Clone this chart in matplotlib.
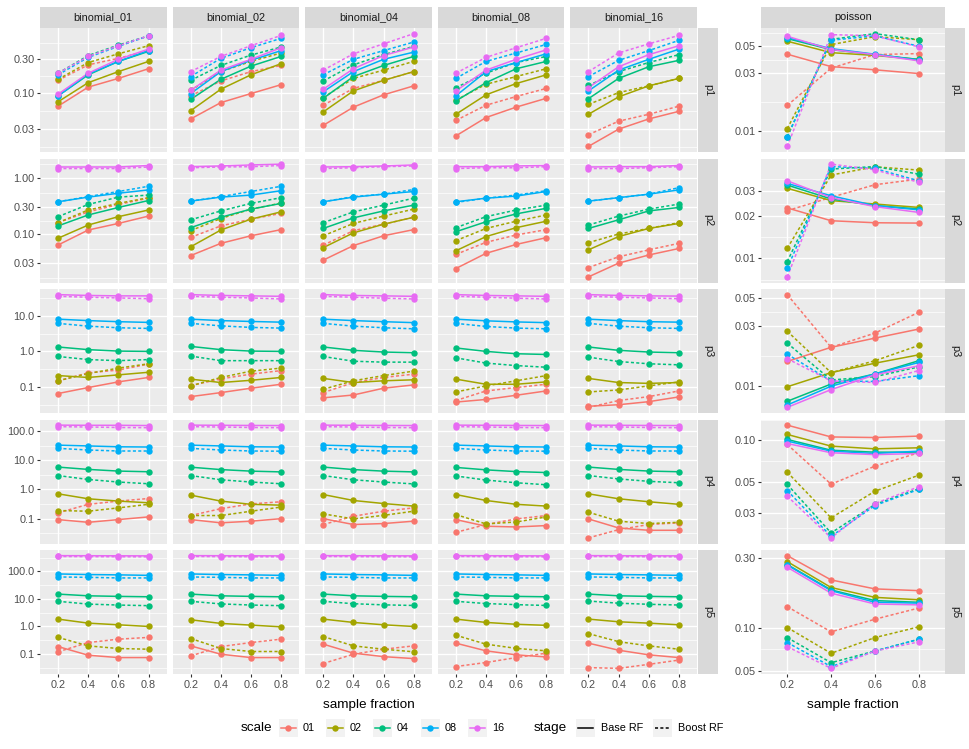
import matplotlib.pyplot as plt
import numpy as np
from matplotlib.patches import Rectangle
from matplotlib.lines import Line2D
from matplotlib.ticker import NullLocator

plt.rcParams['font.family'] = ['Liberation Sans', 'DejaVu Sans']

# sample fractions (discrete x axis) and groups
fractions = [0.2, 0.4, 0.6, 0.8]
frac_labels = ["0.2", "0.4", "0.6", "0.8"]
scales = ["01", "02", "04", "08", "16"]
colors = {"01": "#F8766D", "02": "#A3A500", "04": "#00BF7D", "08": "#00B0F6", "16": "#E76BF3"}
rows = ["p1", "p2", "p3", "p4", "p5"]
facets = ["binomial_01", "binomial_02", "binomial_04", "binomial_08", "binomial_16"]

# each entry: scale -> (Base RF, Boost RF)
# ---- row p1 ----
b01_p1 = {"01": ([0.064, 0.12, 0.16, 0.22], [0.15, 0.25, 0.31, 0.40]),
          "02": ([0.074, 0.139, 0.20, 0.28], [0.155, 0.27, 0.36, 0.47]),
          "04": ([0.09, 0.18, 0.28, 0.39], [0.19, 0.34, 0.48, 0.65]),
          "08": ([0.09, 0.185, 0.28, 0.40], [0.18, 0.32, 0.46, 0.65]),
          "16": ([0.095, 0.19, 0.30, 0.42], [0.19, 0.33, 0.47, 0.65])}
b02_p1 = {"01": ([0.042, 0.072, 0.097, 0.13], [0.09, 0.147, 0.20, 0.245]),
          "02": ([0.055, 0.112, 0.18, 0.26], [0.108, 0.20, 0.28, 0.37]),
          "04": ([0.08, 0.155, 0.24, 0.33], [0.15, 0.245, 0.345, 0.45]),
          "08": ([0.097, 0.20, 0.29, 0.40], [0.17, 0.31, 0.44, 0.60]),
          "16": ([0.108, 0.21, 0.30, 0.44], [0.20, 0.33, 0.47, 0.66])}
b04_p1 = {"01": ([0.034, 0.062, 0.093, 0.125], [0.066, 0.115, 0.15, 0.20]),
          "02": ([0.053, 0.106, 0.15, 0.20], [0.085, 0.16, 0.21, 0.28]),
          "04": ([0.083, 0.17, 0.245, 0.33], [0.147, 0.25, 0.35, 0.46]),
          "08": ([0.103, 0.20, 0.30, 0.38], [0.18, 0.30, 0.40, 0.53]),
          "16": ([0.112, 0.22, 0.34, 0.45], [0.21, 0.36, 0.50, 0.70])}
b08_p1 = {"01": ([0.024, 0.044, 0.062, 0.083], [0.040, 0.066, 0.088, 0.115]),
          "02": ([0.049, 0.093, 0.135, 0.18], [0.078, 0.132, 0.17, 0.22]),
          "04": ([0.076, 0.139, 0.22, 0.28], [0.118, 0.19, 0.27, 0.33]),
          "08": ([0.09, 0.20, 0.27, 0.36], [0.16, 0.28, 0.37, 0.49]),
          "16": ([0.106, 0.21, 0.30, 0.41], [0.19, 0.32, 0.44, 0.60])}
b16_p1 = {"01": ([0.017, 0.030, 0.042, 0.054], [0.025, 0.039, 0.049, 0.064]),
          "02": ([0.049, 0.087, 0.125, 0.16], [0.068, 0.10, 0.125, 0.16]),
          "04": ([0.082, 0.16, 0.235, 0.29], [0.127, 0.20, 0.27, 0.35]),
          "08": ([0.106, 0.21, 0.30, 0.42], [0.17, 0.29, 0.40, 0.56]),
          "16": ([0.118, 0.235, 0.35, 0.47], [0.20, 0.37, 0.50, 0.66])}
# ---- row p2 ----
b01_p2 = {"01": ([0.0635, 0.118, 0.155, 0.21], [0.16, 0.25, 0.34, 0.44]),
          "02": ([0.084, 0.145, 0.205, 0.27], [0.16, 0.27, 0.355, 0.45]),
          "04": ([0.14, 0.22, 0.30, 0.40], [0.205, 0.34, 0.46, 0.50]),
          "08": ([0.38, 0.46, 0.54, 0.62], [0.38, 0.47, 0.58, 0.72]),
          "16": ([1.6, 1.6, 1.6, 1.7], [1.5, 1.5, 1.5, 1.6])}
b02_p2 = {"01": ([0.041, 0.068, 0.093, 0.12], [0.087, 0.14, 0.185, 0.235]),
          "02": ([0.059, 0.118, 0.185, 0.25], [0.115, 0.19, 0.28, 0.36]),
          "04": ([0.13, 0.20, 0.28, 0.355], [0.18, 0.26, 0.355, 0.45]),
          "08": ([0.39, 0.46, 0.50, 0.60], [0.39, 0.47, 0.58, 0.72]),
          "16": ([1.62, 1.67, 1.74, 1.8], [1.55, 1.6, 1.62, 1.7])}
b04_p2 = {"01": ([0.034, 0.062, 0.093, 0.12], [0.063, 0.115, 0.15, 0.20]),
          "02": ([0.057, 0.105, 0.15, 0.20], [0.093, 0.155, 0.21, 0.28]),
          "04": ([0.126, 0.195, 0.26, 0.33], [0.16, 0.25, 0.33, 0.44]),
          "08": ([0.38, 0.46, 0.52, 0.58], [0.38, 0.47, 0.52, 0.63]),
          "16": ([1.6, 1.62, 1.67, 1.74], [1.5, 1.55, 1.62, 1.67])}
b08_p2 = {"01": ([0.024, 0.045, 0.065, 0.086], [0.043, 0.071, 0.096, 0.12]),
          "02": ([0.05, 0.09, 0.13, 0.17], [0.076, 0.126, 0.17, 0.22]),
          "04": ([0.11, 0.166, 0.23, 0.29], [0.13, 0.205, 0.27, 0.33]),
          "08": ([0.38, 0.44, 0.48, 0.58], [0.37, 0.44, 0.50, 0.60]),
          "16": ([1.62, 1.62, 1.67, 1.7], [1.5, 1.55, 1.55, 1.62])}
b16_p2 = {"01": ([0.017, 0.030, 0.042, 0.055], [0.025, 0.039, 0.052, 0.068]),
          "02": ([0.052, 0.09, 0.126, 0.155], [0.07, 0.10, 0.126, 0.16]),
          "04": ([0.126, 0.18, 0.26, 0.30], [0.145, 0.21, 0.28, 0.345]),
          "08": ([0.39, 0.45, 0.52, 0.62], [0.39, 0.45, 0.52, 0.68]),
          "16": ([1.6, 1.62, 1.62, 1.7], [1.5, 1.5, 1.55, 1.62])}
# ---- row p3 ----
b01_p3 = {"01": ([0.066, 0.097, 0.14, 0.186], [0.15, 0.25, 0.30, 0.44]),
          "02": ([0.21, 0.186, 0.22, 0.26], [0.15, 0.24, 0.34, 0.45]),
          "04": ([1.33, 1.12, 1.02, 1.0], [0.72, 0.59, 0.55, 0.59]),
          "08": ([8.0, 7.3, 6.8, 6.5], [6.1, 5.1, 4.6, 4.4]),
          "16": ([39, 37, 36, 36], [35, 33, 31.5, 30])}
b02_p3 = {"01": ([0.054, 0.07, 0.093, 0.12], [0.11, 0.17, 0.23, 0.29]),
          "02": ([0.167, 0.134, 0.155, 0.186], [0.108, 0.186, 0.28, 0.34]),
          "04": ([1.38, 1.12, 1.02, 1.0], [0.74, 0.55, 0.55, 0.55]),
          "08": ([8.0, 7.3, 6.9, 6.6], [6.1, 5.2, 4.7, 4.5]),
          "16": ([39, 37, 36, 35], [35, 33, 31.5, 29.5])}
b04_p3 = {"01": ([0.05, 0.06, 0.093, 0.115], [0.07, 0.134, 0.186, 0.23]),
          "02": ([0.175, 0.134, 0.15, 0.16], [0.087, 0.15, 0.21, 0.28]),
          "04": ([1.33, 1.07, 0.96, 0.92], [0.72, 0.53, 0.50, 0.50]),
          "08": ([8.0, 7.3, 6.8, 6.4], [6.1, 5.1, 4.6, 4.3]),
          "16": ([39, 37, 36, 35], [35, 33, 31, 29.5])}
b08_p3 = {"01": ([0.038, 0.045, 0.059, 0.078], [0.042, 0.078, 0.097, 0.12]),
          "02": ([0.167, 0.12, 0.12, 0.14], [0.073, 0.108, 0.15, 0.21]),
          "04": ([1.25, 1.0, 0.86, 0.82], [0.66, 0.47, 0.40, 0.36]),
          "08": ([8.0, 7.2, 6.7, 6.4], [6.1, 5.0, 4.5, 4.3]),
          "16": ([39, 37, 36, 35], [35, 33, 31, 29.5])}
b16_p3 = {"01": ([0.029, 0.032, 0.039, 0.053], [0.027, 0.042, 0.054, 0.078]),
          "02": ([0.175, 0.134, 0.127, 0.134], [0.073, 0.083, 0.108, 0.14]),
          "04": ([1.33, 1.07, 0.96, 0.92], [0.69, 0.52, 0.45, 0.42]),
          "08": ([8.0, 7.3, 6.8, 6.6], [6.1, 5.1, 4.6, 4.4]),
          "16": ([39, 37, 36, 35.5], [35, 33, 31.5, 30])}
# ---- row p4 ----
b01_p4 = {"01": ([0.093, 0.075, 0.093, 0.115], [0.158, 0.31, 0.40, 0.49]),
          "02": ([0.71, 0.48, 0.40, 0.35], [0.19, 0.18, 0.234, 0.31]),
          "04": ([5.85, 4.87, 4.27, 4.05], [3.0, 2.2, 1.8, 1.57]),
          "08": ([33, 31, 29, 28.5], [25.6, 22.5, 20.8, 20.8]),
          "16": ([160, 158, 158, 155], [142, 138, 133, 131])}
b02_p4 = {"01": ([0.093, 0.072, 0.082, 0.10], [0.128, 0.22, 0.32, 0.38]),
          "02": ([0.64, 0.40, 0.31, 0.29], [0.128, 0.128, 0.18, 0.25]),
          "04": ([5.8, 4.8, 4.25, 4.0], [3.0, 2.15, 1.8, 1.57]),
          "08": ([33, 31, 29, 28.5], [25.6, 22.5, 20.8, 20.5]),
          "16": ([160, 158, 156, 155], [142, 138, 133, 131])}
b04_p4 = {"01": ([0.10, 0.063, 0.068, 0.082], [0.063, 0.121, 0.18, 0.234]),
          "02": ([0.67, 0.42, 0.33, 0.27], [0.146, 0.098, 0.13, 0.18]),
          "04": ([5.85, 4.8, 4.25, 4.0], [3.0, 2.15, 1.8, 1.55]),
          "08": ([33, 31, 29, 28.5], [25.6, 22.5, 20.8, 20.5]),
          "16": ([160, 158, 156, 155], [142, 138, 133, 131])}
b08_p4 = {"01": ([0.093, 0.055, 0.052, 0.058], [0.034, 0.063, 0.098, 0.128]),
          "02": ([0.67, 0.42, 0.31, 0.27], [0.138, 0.066, 0.077, 0.115]),
          "04": ([5.7, 4.7, 4.1, 3.8], [2.9, 2.1, 1.7, 1.45]),
          "08": ([33, 31, 29, 28.5], [25.6, 22.5, 20.8, 20.5]),
          "16": ([160, 158, 156, 155], [142, 138, 133, 131])}
b16_p4 = {"01": ([0.098, 0.048, 0.04, 0.04], [0.022, 0.042, 0.063, 0.072]),
          "02": ([0.71, 0.48, 0.38, 0.31], [0.166, 0.082, 0.068, 0.075]),
          "04": ([5.85, 4.87, 4.27, 4.05], [3.0, 2.3, 1.9, 1.7]),
          "08": ([33, 31, 29, 28.5], [25.6, 22.5, 20.8, 20.8]),
          "16": ([160, 158, 156, 155], [142, 138, 133, 131])}
# ---- row p5 ----
b01_p5 = {"01": ([0.186, 0.09, 0.074, 0.074], [0.12, 0.26, 0.345, 0.40]),
          "02": ([1.85, 1.32, 1.15, 1.0], [0.40, 0.197, 0.158, 0.149]),
          "04": ([15, 13, 12.4, 12], [8.2, 6.5, 6.0, 5.7]),
          "08": ([81, 77, 75, 72], [63, 61, 58, 58]),
          "16": ([375, 372, 370, 368], [350, 345, 342, 340])}
b02_p5 = {"01": ([0.197, 0.098, 0.074, 0.074], [0.085, 0.186, 0.26, 0.345]),
          "02": ([1.75, 1.29, 1.12, 0.97], [0.365, 0.158, 0.123, 0.123]),
          "04": ([15, 13, 12.4, 12], [8.2, 6.6, 6.0, 5.7]),
          "08": ([81, 77, 75, 72], [63, 61, 58, 58]),
          "16": ([375, 372, 370, 368], [350, 345, 342, 340])}
b04_p5 = {"01": ([0.227, 0.107, 0.08, 0.068], [0.045, 0.098, 0.149, 0.197]),
          "02": ([1.85, 1.4, 1.15, 1.0], [0.43, 0.197, 0.149, 0.12]),
          "04": ([15, 13, 12.4, 12], [8.2, 6.7, 6.1, 5.8]),
          "08": ([81, 77, 75, 72], [63, 61, 58, 58]),
          "16": ([375, 372, 370, 368], [350, 345, 342, 340])}
b08_p5 = {"01": ([0.247, 0.13, 0.093, 0.078], [0.035, 0.049, 0.074, 0.107]),
          "02": ([1.85, 1.4, 1.2, 1.1], [0.48, 0.227, 0.16, 0.13]),
          "04": ([15, 13, 12.4, 12], [8.2, 6.8, 6.2, 5.8]),
          "08": ([81, 77, 75, 72], [63, 61, 58, 58]),
          "16": ([375, 372, 370, 368], [350, 345, 342, 340])}
b16_p5 = {"01": ([0.247, 0.137, 0.093, 0.074], [0.032, 0.03, 0.042, 0.06]),
          "02": ([1.85, 1.48, 1.32, 1.15], [0.55, 0.28, 0.197, 0.149]),
          "04": ([15, 13, 12.4, 12], [8.4, 7.0, 6.4, 6.0]),
          "08": ([81, 77, 75, 72], [63, 61, 58, 58]),
          "16": ([375, 372, 370, 368], [350, 345, 342, 340])}
# ---- poisson ----
pois_p1 = {"01": ([0.043, 0.034, 0.032, 0.0298], [0.0163, 0.033, 0.0427, 0.0435]),
           "02": ([0.055, 0.0443, 0.042, 0.039], [0.0105, 0.0516, 0.060, 0.0566]),
           "04": ([0.0578, 0.0469, 0.0427, 0.0389], [0.009, 0.057, 0.0635, 0.0566]),
           "08": ([0.0589, 0.0478, 0.043, 0.0384], [0.009, 0.056, 0.061, 0.05]),
           "16": ([0.0604, 0.047, 0.0427, 0.0379], [0.0075, 0.0623, 0.061, 0.0494])}
pois_p2 = {"01": ([0.0228, 0.0185, 0.0179, 0.0178], [0.0218, 0.0271, 0.0333, 0.0365]),
           "02": ([0.0314, 0.0257, 0.0243, 0.023], [0.0118, 0.039, 0.0446, 0.0423]),
           "04": ([0.0331, 0.0264, 0.0237, 0.0224], [0.0095, 0.043, 0.0448, 0.0396]),
           "08": ([0.034, 0.0278, 0.0237, 0.0221], [0.0085, 0.0448, 0.0434, 0.0355]),
           "16": ([0.0355, 0.027, 0.0233, 0.0212], [0.0074, 0.0466, 0.0425, 0.0346])}
pois_p3 = {"01": ([0.0157, 0.0203, 0.024, 0.0283], [0.053, 0.0203, 0.0263, 0.0384]),
           "02": ([0.0099, 0.0128, 0.0152, 0.0177], [0.0272, 0.0128, 0.0159, 0.021]),
           "04": ([0.0076, 0.0104, 0.0125, 0.0159], [0.0219, 0.0112, 0.0119, 0.0142]),
           "08": ([0.0071, 0.01, 0.0125, 0.0154], [0.0179, 0.011, 0.0109, 0.0121]),
           "16": ([0.0068, 0.0094, 0.0123, 0.0145], [0.0165, 0.011, 0.0107, 0.0133])}
pois_p4 = {"01": ([0.129, 0.106, 0.105, 0.1075], [0.0935, 0.0483, 0.0652, 0.0815]),
           "02": ([0.1105, 0.091, 0.087, 0.0885], [0.059, 0.0276, 0.043, 0.0561]),
           "04": ([0.1017, 0.085, 0.0823, 0.0823], [0.0481, 0.0215, 0.0345, 0.0448]),
           "08": ([0.099, 0.0837, 0.0805, 0.0837], [0.0435, 0.0203, 0.0339, 0.0443]),
           "16": ([0.095, 0.0815, 0.079, 0.0805], [0.0396, 0.0198, 0.035, 0.0463])}
pois_p5 = {"01": ([0.311, 0.212, 0.184, 0.179], [0.139, 0.0934, 0.114, 0.136]),
           "02": ([0.283, 0.188, 0.161, 0.155], [0.1, 0.0666, 0.0853, 0.101]),
           "04": ([0.27, 0.181, 0.153, 0.149], [0.0853, 0.0574, 0.069, 0.0831]),
           "08": ([0.268, 0.179, 0.149, 0.147], [0.0789, 0.054, 0.069, 0.0831]),
           "16": ([0.259, 0.172, 0.145, 0.143], [0.074, 0.0525, 0.069, 0.0797])}

binom = {"p1": [b01_p1, b02_p1, b04_p1, b08_p1, b16_p1],
         "p2": [b01_p2, b02_p2, b04_p2, b08_p2, b16_p2],
         "p3": [b01_p3, b02_p3, b04_p3, b08_p3, b16_p3],
         "p4": [b01_p4, b02_p4, b04_p4, b08_p4, b16_p4],
         "p5": [b01_p5, b02_p5, b04_p5, b08_p5, b16_p5]}
pois = {"p1": pois_p1, "p2": pois_p2, "p3": pois_p3, "p4": pois_p4, "p5": pois_p5}

# y breaks and label formats per row
binom_ticks = {"p1": ([0.03, 0.1, 0.3], "{:.2f}"), "p2": ([0.03, 0.1, 0.3, 1.0], "{:.2f}"),
               "p3": ([0.1, 1.0, 10.0], "{:.1f}"), "p4": ([0.1, 1.0, 10.0, 100.0], "{:.1f}"),
               "p5": ([0.1, 1.0, 10.0, 100.0], "{:.1f}")}
pois_ticks = {"p1": [0.01, 0.03, 0.05], "p2": [0.01, 0.02, 0.03], "p3": [0.01, 0.03, 0.05],
              "p4": [0.03, 0.05, 0.10], "p5": [0.05, 0.10, 0.30]}

W, H = 969, 749
fig = plt.figure(figsize=(W / 100, H / 100), dpi=100)
dash = (0, (2, 1.5))


def px_axes(x0, y0, w, h):
    return fig.add_axes([x0 / W, 1 - (y0 + h) / H, w / W, h / H])


def minor_breaks(major):
    lm = np.log10(major)
    d = np.diff(lm)
    ext = np.concatenate([[lm[0] - d[0]], lm, [lm[-1] + d[-1]]])
    return 10 ** ((ext[:-1] + ext[1:]) / 2)


def log_limits(panels):
    vals = [v for p in panels for s in scales for stage in p[s] for v in stage]
    lo, hi = np.log10(min(vals)), np.log10(max(vals))
    pad = (hi - lo) * 0.05
    return 10 ** (lo - pad), 10 ** (hi + pad)


def draw_panel(ax, panel, yticks, fmt, ylim, show_x, show_y):
    ax.set_facecolor('#EBEBEB')
    for sp in ax.spines.values():
        sp.set_visible(False)
    ax.set_yscale('log')
    for y in minor_breaks(yticks):
        ax.axhline(y, color='white', lw=0.5, zorder=0.5)
    for y in yticks:
        ax.axhline(y, color='white', lw=1.0, zorder=0.6)
    for x in fractions:
        ax.axvline(x, color='white', lw=1.0, zorder=0.6)
    for s in scales:
        base, boost = panel[s]
        ax.plot(fractions, base, color=colors[s], lw=1.1, zorder=2)
        ax.plot(fractions, boost, color=colors[s], lw=1.1, ls=dash, zorder=2)
    for s in scales:
        base, boost = panel[s]
        ax.plot(fractions, base, 'o', color=colors[s], ms=4.6, mew=0, zorder=3)
        ax.plot(fractions, boost, 'o', color=colors[s], ms=4.6, mew=0, zorder=3)
    ax.set_xlim(0.08, 0.92)
    ax.set_ylim(ylim)
    ax.yaxis.set_minor_locator(NullLocator())
    ax.set_yticks(yticks)
    ax.set_yticklabels([fmt.format(v) for v in yticks])
    ax.set_xticks(fractions)
    ax.set_xticklabels(frac_labels)
    ax.tick_params(axis='both', length=2.5, width=0.8, color='#333333',
                   labelcolor='#4D4D4D', labelsize=7.8, pad=1.5)
    if not show_x:
        ax.tick_params(axis='x', length=0, labelbottom=False)
    if not show_y:
        ax.tick_params(axis='y', length=0, labelleft=False)


panel_w, panel_h = 126.6, 124
col_x = [40 + j * 132.6 for j in range(5)]
row_y = [28 + i * 130.5 for i in range(5)]
pois_x, pois_w = 761, 184

for i, r in enumerate(rows):
    ylim = log_limits(binom[r])
    ticks, fmt = binom_ticks[r]
    for j, panel in enumerate(binom[r]):
        ax = px_axes(col_x[j], row_y[i], panel_w, panel_h)
        draw_panel(ax, panel, ticks, fmt, ylim, i == 4, j == 0)
    ax = px_axes(pois_x, row_y[i], pois_w, panel_h)
    draw_panel(ax, pois[r], pois_ticks[r], "{:.2f}", log_limits([pois[r]]), i == 4, True)

# overlay in pixel coordinates for strips, titles and legend
ov = fig.add_axes([0, 0, 1, 1])
ov.set_xlim(0, W)
ov.set_ylim(H, 0)
ov.axis('off')

strip_col = '#D9D9D9'
for j, f in enumerate(facets):
    ov.add_patch(Rectangle((col_x[j], 7), panel_w, 21, color=strip_col, lw=0))
    ov.text(col_x[j] + panel_w / 2, 17.5, f, ha='center', va='center', fontsize=7.8, color='#1A1A1A')
ov.add_patch(Rectangle((pois_x, 7), pois_w, 21, color=strip_col, lw=0))
ov.text(pois_x + pois_w / 2, 17.5, "poisson", ha='center', va='center', fontsize=7.8, color='#1A1A1A')
for i, r in enumerate(rows):
    for sx in (col_x[4] + panel_w + 1, pois_x + pois_w):
        ov.add_patch(Rectangle((sx, row_y[i]), 20, panel_h, color=strip_col, lw=0))
        ov.text(sx + 10, row_y[i] + panel_h / 2, r, ha='center', va='center', rotation=-90,
                fontsize=7.8, color='#1A1A1A')

ov.text((col_x[0] + col_x[4] + panel_w) / 2, 705, "sample fraction", ha='center', va='center', fontsize=9.7)
ov.text(pois_x + pois_w / 2, 705, "sample fraction", ha='center', va='center', fontsize=9.7)

# legend
ly = 728
ov.text(241, ly, "scale", ha='left', va='center', fontsize=9.7)
key_x = [279, 326, 373, 421, 468]
for s, kx in zip(scales, key_x):
    ov.add_patch(Rectangle((kx, ly - 9), 19, 18, color='#F2F2F2', lw=0))
    ov.add_line(Line2D([kx + 2, kx + 17], [ly, ly], color=colors[s], lw=1.1))
    ov.plot([kx + 9.5], [ly], 'o', color=colors[s], ms=4.6, mew=0)
    ov.text(kx + 24, ly, s, ha='left', va='center', fontsize=7.8)
ov.text(534, ly, "stage", ha='left', va='center', fontsize=9.7)
for kx, ls, lab in [(576, '-', "Base RF"), (653, dash, "Boost RF")]:
    ov.add_patch(Rectangle((kx, ly - 9), 19, 18, color='#F2F2F2', lw=0))
    ov.add_line(Line2D([kx + 2, kx + 17], [ly, ly], color='black', lw=1.1, ls=ls))
    ov.text(kx + 25, ly, lab, ha='left', va='center', fontsize=7.8)

fig.savefig('out.png', dpi=100)
